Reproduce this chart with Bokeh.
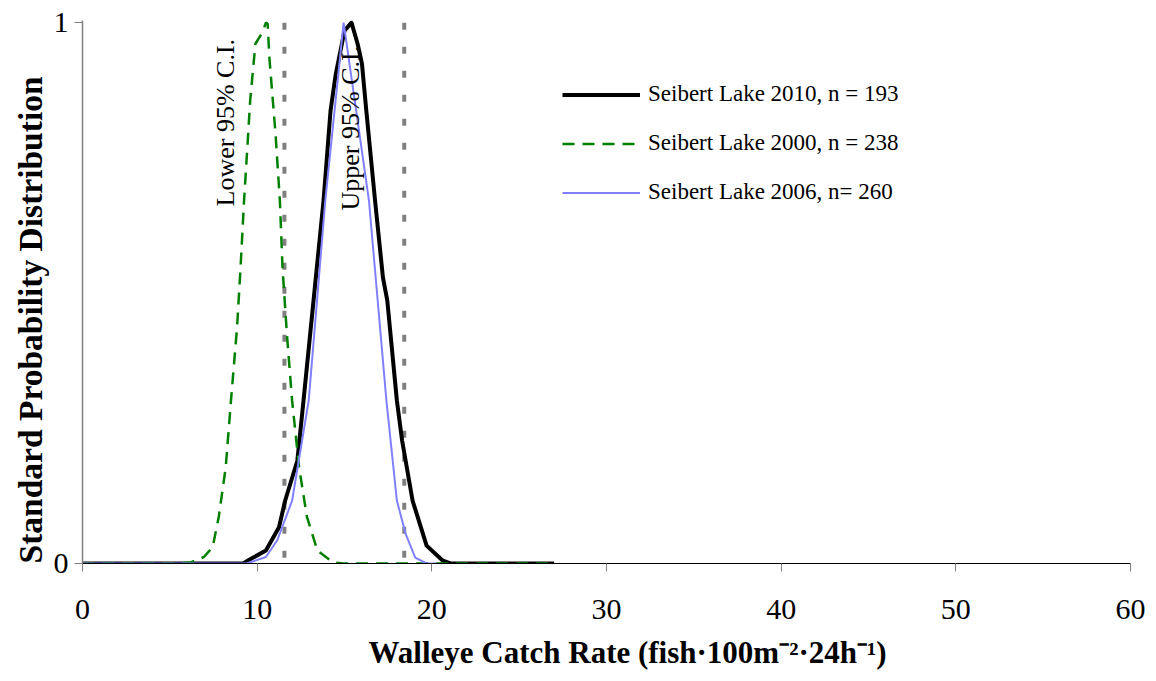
from bokeh.plotting import figure
from bokeh.models import Range1d, Legend, LegendItem, FixedTicker, Title
from bokeh.core.properties import value
from bokeh.embed import file_html
from bokeh.resources import INLINE
import math

# ---- data ----
x_2010 = [0, 9.2, 9.5, 10.5, 11.25, 11.6, 12.3, 12.65, 13.8, 14.2, 14.5, 15.0, 15.4,
          15.75, 16.0, 16.25, 16.75, 17.2, 17.45, 18.0, 18.3, 18.9, 19.7, 20.6, 21.1, 27.0]
y_2010 = [0, 0, 0.006, 0.024, 0.067, 0.116, 0.19, 0.30, 0.671, 0.837, 0.905, 0.985, 1.0,
          0.961, 0.924, 0.837, 0.671, 0.529, 0.486, 0.301, 0.227, 0.116, 0.033, 0.006, 0, 0]

x_2000 = [0, 5.6, 6.2, 6.95, 7.45, 7.8, 8.2, 8.5, 8.85, 9.05, 9.25, 9.45, 9.6, 9.9, 10.3,
          10.5, 10.6, 10.7, 11.05, 11.3, 11.45, 11.7, 12.0, 12.4, 12.85, 13.45, 14.35, 14.95, 27.0]
y_2000 = [0, 0, 0.002, 0.012, 0.03, 0.086, 0.178, 0.301, 0.437, 0.548, 0.671, 0.776, 0.856,
          0.961, 0.982, 1.0, 0.998, 0.935, 0.795, 0.671, 0.548, 0.425, 0.301, 0.178, 0.086,
          0.024, 0.002, 0, 0]

x_2006 = [0, 9.4, 10.5, 11.15, 12.0, 12.95, 13.9, 14.95, 16.4, 17.4, 18.0, 18.5, 19.05, 19.7, 20.3]
y_2006 = [0, 0, 0.012, 0.043, 0.116, 0.301, 0.671, 1.0, 0.671, 0.301, 0.116, 0.055, 0.011, 0, 0]

ci_x = [11.56, 18.42]
ci_labels = ["Lower 95% C.I.", "Upper 95% C.I."]
series_labels = ["Seibert Lake 2010, n = 193", "Seibert Lake 2000, n = 238", "Seibert Lake 2006, n= 260"]
x_ticks = [0, 10, 20, 30, 40, 50, 60]
y_ticks = [0, 1]
x_title = "Walleye Catch Rate (fish\u00b7100m\u207b\u00b2\u00b724h\u207b\u00b9)"
y_title = "Standard Probability Distribution"

SERIF = "Liberation Serif"

p = figure(width=1156, height=681, output_backend="svg", toolbar_location=None,
           x_range=Range1d(0, 60), y_range=Range1d(0, 1.004),
           min_border_left=82, min_border_right=26, min_border_top=20, min_border_bottom=118)
p.outline_line_color = None
p.xgrid.visible = False
p.ygrid.visible = False
p.background_fill_color = "white"

# axes
p.xaxis.ticker = FixedTicker(ticks=x_ticks)
p.yaxis.ticker = FixedTicker(ticks=y_ticks)
for ax in (p.xaxis, p.yaxis):
    ax.major_label_text_font = SERIF
    ax.major_label_text_font_size = "30px"
    ax.major_label_text_color = "black"
    ax.minor_tick_line_color = None
    ax.major_tick_in = 0
    ax.major_tick_out = 8
    ax.major_tick_line_color = "#808080"
p.xaxis.axis_line_color = "black"
p.xaxis.axis_line_width = 1.2
p.yaxis.axis_line_color = "#808080"
p.yaxis.axis_line_width = 1.5
p.xaxis.major_label_standoff = 28
p.yaxis.major_label_standoff = 6

# CI dotted lines
p.segment(x0=ci_x, y0=[1, 1], x1=ci_x, y1=[0, 0], line_color="#808080",
          line_width=4, line_dash="7 17")

# curves
r1 = p.line(x_2010, y_2010, line_color="black", line_width=4, line_join="round")
r2 = p.line(x_2000, y_2000, line_color="#008000", line_width=2.5, line_dash="12 8")
r3 = p.line(x_2006, y_2006, line_color="#8080FF", line_width=2)

# CI labels (rotated)
p.text(x=[8.19, 15.34], y=[0.815, 0.805], text=ci_labels, angle=math.pi / 2,
       text_font=value(SERIF), text_font_size="26px", text_align="center",
       text_baseline="middle", text_color="black")

legend = Legend(items=[LegendItem(label=series_labels[0], renderers=[r1]),
                       LegendItem(label=series_labels[1], renderers=[r2]),
                       LegendItem(label=series_labels[2], renderers=[r3])],
                location=(480, 358), padding=0, margin=0, spacing=23,
                glyph_width=78, glyph_height=23, label_height=23, label_standoff=8,
                label_text_font=SERIF, label_text_font_size="23px",
                label_text_color="black",
                border_line_alpha=0, background_fill_alpha=0)
p.add_layout(legend)

# axis titles
p.add_layout(Title(text=y_title, align="left", offset=0, text_font=SERIF,
                   text_font_style="bold", text_font_size="33.5px", standoff=4,
                   text_color="black"), "left")
p.add_layout(Title(text=x_title, align="left", offset=286, text_font=SERIF,
                   text_font_style="bold", text_font_size="31px", standoff=23,
                   text_color="black"), "below")

open("out.html", "w").write(file_html(p, INLINE))
